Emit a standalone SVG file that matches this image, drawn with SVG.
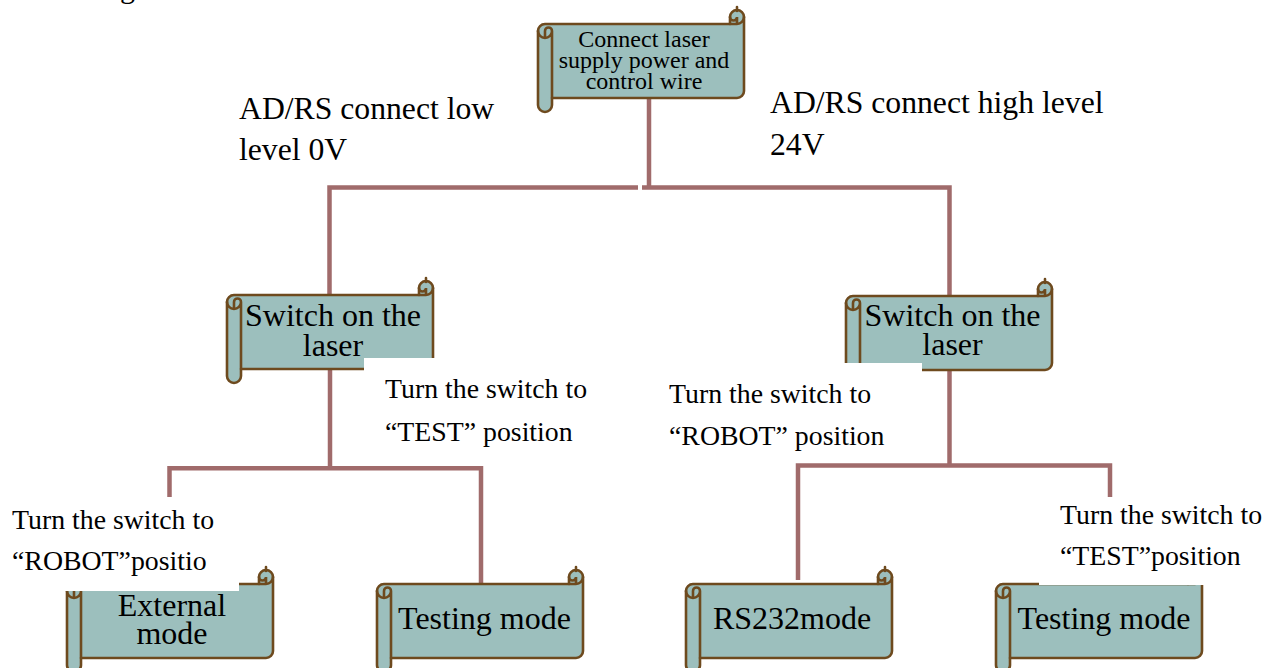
<svg xmlns="http://www.w3.org/2000/svg" xmlns:xlink="http://www.w3.org/1999/xlink" width="1280" height="668" viewBox="0 0 1280 668">
  <style>
    text { font-family: "Liberation Serif", "Times New Roman", serif; fill: #000; }
    .node { font-size: 32px; text-anchor: middle; }
    .small { font-size: 24px; text-anchor: middle; }
    .cond { font-size: 31.7px; }
    .step { font-size: 27.8px; }
    .wire { fill: none; stroke: #a06b6b; stroke-width: 4.5; }
    .scroll-body { fill: #9cbfbd; stroke: #6e4a1e; stroke-width: 2.6; stroke-linejoin: round; }
    .scroll-line { fill: none; stroke: #6e4a1e; stroke-width: 2.6; stroke-linecap: round; }
    .mask { fill: #ffffff; }
  </style>
  <defs>
    <!-- horizontal scroll shape, 206 x 102, roll size 14 -->
    <g id="scroll">
      <path class="scroll-body" d="M0,21 A7,7 0 0 1 7,14 L192,14 L192,7 A7,7 0 0 1 206,7 L206,81 A7,7 0 0 1 199,88 L14,88 L14,95 A7,7 0 0 1 0,95 Z"/>
      <path class="scroll-line" d="M192,14 L199,14 A7,7 0 0 0 206,7 M199,14 L199,7 A3.5,3.5 0 0 1 192,7 M7,28 L7,21 A3.5,3.5 0 0 1 14,21 A7,7 0 0 1 0,21 M14,21 L14,88 M199,-3 L199,1"/>
    </g>
  </defs>

  <!-- descender of a line above the page top -->
  <text x="120" y="-2" style="font-size:30px">g</text>

  <!-- connectors -->
  <g id="connectors">
    <path class="wire" d="M649,97 V187.5"/>
    <path class="wire" d="M638,187.5 H329.5 V296"/>
    <path class="wire" d="M642,187.5 H949.5 V296"/>
    <path class="wire" d="M330,368 V468.3"/>
    <path class="wire" d="M169.5,497 V468.3 H481 V583"/>
    <path class="wire" d="M949.5,368 V465.5"/>
    <path class="wire" d="M798,580 V465.5 H1110 V497"/>
  </g>

  <!-- nodes -->
  <g id="node-connect">
    <use xlink:href="#scroll" href="#scroll" x="538" y="10"/>
    <text class="small" x="644" y="47">Connect laser</text>
    <text class="small" x="644" y="68">supply power and</text>
    <text class="small" x="644" y="89">control wire</text>
  </g>
  <g id="node-switch-left">
    <use xlink:href="#scroll" href="#scroll" x="227" y="281"/>
    <text class="node" x="333" y="326">Switch on the</text>
    <text class="node" x="333" y="356">laser</text>
  </g>
  <g id="node-switch-right">
    <use xlink:href="#scroll" href="#scroll" x="846" y="282"/>
    <text class="node" x="952.5" y="326">Switch on the</text>
    <text class="node" x="952.5" y="355">laser</text>
  </g>
  <g id="node-external">
    <use xlink:href="#scroll" href="#scroll" x="67" y="570"/>
    <text class="node" x="172" y="616">External</text>
    <text class="node" x="172" y="644">mode</text>
  </g>
  <g id="node-testing-left">
    <use xlink:href="#scroll" href="#scroll" x="377" y="570"/>
    <text class="node" x="484.5" y="629">Testing mode</text>
  </g>
  <g id="node-rs232">
    <use xlink:href="#scroll" href="#scroll" x="686" y="570"/>
    <text class="node" x="792" y="629">RS232mode</text>
  </g>
  <g id="node-testing-right">
    <use xlink:href="#scroll" href="#scroll" x="996" y="570"/>
    <text class="node" x="1104" y="629">Testing mode</text>
  </g>

  <!-- branch labels -->
  <g id="label-low">
    <text class="cond" x="239" y="119">AD/RS connect low</text>
    <text class="cond" x="239" y="160">level 0V</text>
  </g>
  <g id="label-high">
    <text class="cond" x="770" y="113">AD/RS connect high level</text>
    <text class="cond" x="770" y="155">24V</text>
  </g>
  <g id="label-test-left">
    <rect class="mask" x="364" y="358" width="236" height="96"/>
    <text class="step" x="385" y="398">Turn the switch to</text>
    <text class="step" x="385" y="441">“TEST” position</text>
  </g>
  <g id="label-robot-right">
    <rect class="mask" x="660" y="363" width="262" height="94"/>
    <text class="step" x="669" y="403">Turn the switch to</text>
    <text class="step" x="669" y="445">“ROBOT” position</text>
  </g>
  <g id="label-robot-left">
    <rect class="mask" x="0" y="497" width="239" height="94"/>
    <text class="step" x="12" y="529">Turn the switch to</text>
    <text class="step" x="12" y="570">“ROBOT”positio</text>
  </g>
  <g id="label-test-right">
    <rect class="mask" x="1039" y="497" width="241" height="88"/>
    <text class="step" x="1060" y="524">Turn the switch to</text>
    <text class="step" x="1060" y="565">“TEST”position</text>
  </g>
</svg>
